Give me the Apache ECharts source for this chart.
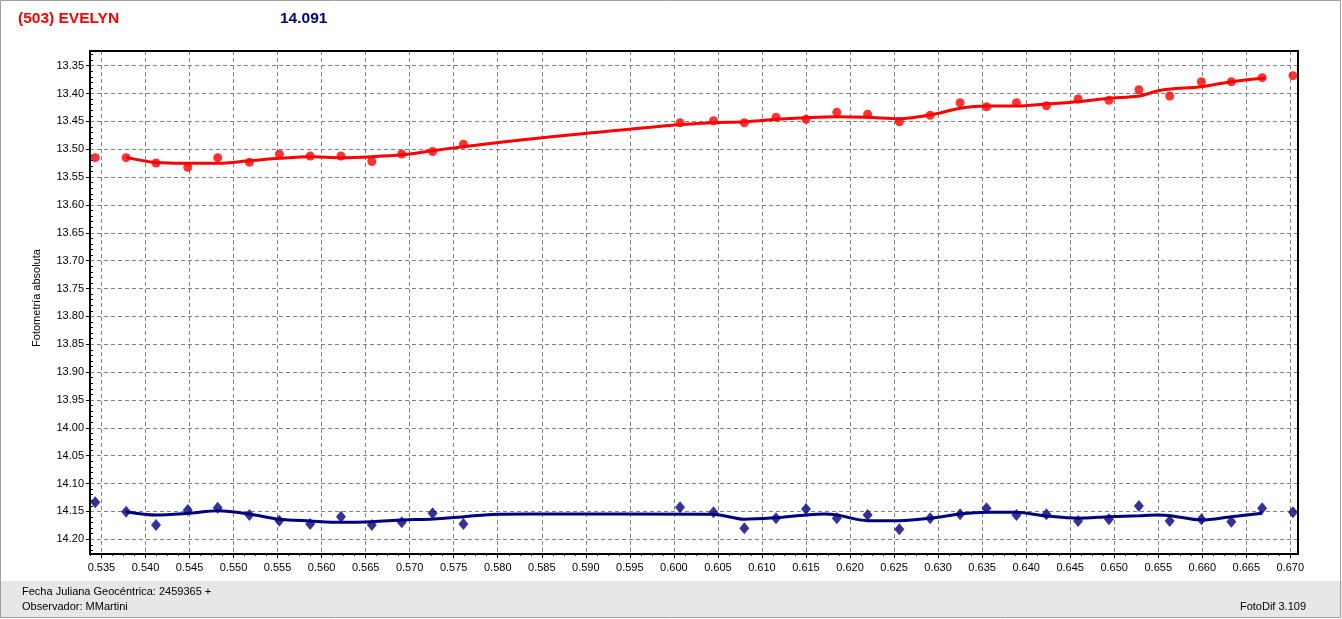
<!DOCTYPE html>
<html>
<head>
<meta charset="utf-8">
<script src="https://cdn.jsdelivr.net/npm/echarts@6/dist/echarts.min.js"></script>
<style>
html,body{margin:0;padding:0;background:#fff;}
#chart{width:1342px;height:619px;}
</style>
</head>
<body>
<div id="chart"></div>
<script>
// ---- data ----
const titleText = '(503) EVELYN';
const refMagText = '14.091';
const yAxisName = 'Fotometría absoluta';
const footerDate = 'Fecha Juliana Geocéntrica: 2459365 +';
const footerObserver = 'Observador: MMartini';
const footerSoftware = 'FotoDif 3.109';

// tick values
const xTicks = [0.535,0.540,0.545,0.550,0.555,0.560,0.565,0.570,0.575,0.580,0.585,0.590,0.595,0.600,
  0.605,0.610,0.615,0.620,0.625,0.630,0.635,0.640,0.645,0.650,0.655,0.660,0.665,0.670];
const yTicks = [13.35,13.40,13.45,13.50,13.55,13.60,13.65,13.70,13.75,13.80,13.85,13.90,13.95,14.00,
  14.05,14.10,14.15,14.20];

// observation times (fraction of day)
const obsTimes = [0.5343,0.5378,0.5412,0.5448,0.5482,0.5518,0.5552,0.5587,0.5622,0.5657,0.5691,0.5726,0.5761,
  0.6007,0.6045,0.6080,0.6116,0.6150,0.6185,0.6220,0.6256,0.6291,0.6325,0.6355,0.6389,0.6423,0.6459,0.6494,
  0.6528,0.6563,0.6599,0.6633,0.6668,0.6703];
// asteroid magnitudes (red)
const asteroidMag = [13.515,13.515,13.5246,13.5323,13.515,13.5234,13.509,13.512,13.512,13.522,13.5085,13.504,13.491,
  13.4523,13.4487,13.4523,13.4426,13.4462,13.4337,13.4372,13.4505,13.4390,13.4164,13.4236,13.4164,13.4218,13.4098,
  13.4121,13.3931,13.4044,13.3787,13.3787,13.3715,13.3679];
// comparison star magnitudes (blue)
const compMag = [14.1336,14.1504,14.1743,14.1474,14.1433,14.1564,14.1666,14.1725,14.1594,14.1743,14.1695,14.1533,14.1725,
  14.1427,14.1516,14.1803,14.1623,14.1456,14.1623,14.1564,14.1821,14.1623,14.1551,14.1444,14.1564,14.1551,14.1671,
  14.1641,14.1403,14.1671,14.1641,14.1684,14.1444,14.1516];

// smoothed curve of asteroid
const asteroidFitX = [0.5378,0.5412,0.5448,0.5482,0.5518,0.5552,0.5587,0.5622,0.5657,0.5691,0.5726,0.5761,0.5826,0.5902,
  0.6001,0.6045,0.6080,0.6116,0.6150,0.6185,0.6220,0.6256,0.6291,0.6325,0.6355,0.6389,0.6423,0.6459,0.6494,0.6528,
  0.6549,0.6564,0.6599,0.6633,0.6672];
const asteroidFitY = [13.5145,13.5238,13.5250,13.5250,13.5205,13.5162,13.5133,13.5150,13.5133,13.5100,13.5025,13.4953,
  13.4833,13.4713,13.4564,13.4523,13.4505,13.4462,13.4433,13.4415,13.4426,13.4450,13.4385,13.4265,13.4223,13.4223,
  13.4187,13.4146,13.4085,13.4044,13.3954,13.3918,13.3877,13.3787,13.3721];
// smoothed curve of comparison
const compFitX = [0.5378,0.5412,0.5448,0.5483,0.5518,0.5552,0.5587,0.5622,0.5658,0.5691,0.5727,0.5762,0.5799,0.5833,
  0.6045,0.6080,0.6116,0.6150,0.6171,0.6185,0.6220,0.6256,0.6291,0.6325,0.6355,0.6389,0.6423,0.6459,0.6494,0.6528,
  0.6549,0.6564,0.6599,0.6633,0.6668];
const compFitY = [14.1504,14.1564,14.1533,14.1486,14.1546,14.1641,14.1671,14.1695,14.1684,14.1654,14.1636,14.1594,
  14.1551,14.1546,14.1551,14.1641,14.1612,14.1564,14.1546,14.1564,14.1666,14.1666,14.1623,14.1546,14.1516,14.1516,
  14.1582,14.1623,14.1594,14.1576,14.1564,14.1576,14.1654,14.1594,14.1533];

// axis extents
const xMin = 0.5337, xMax = 0.67087;
const yMin = 13.3236, yMax = 14.2264;

// minor ticks (subdivisions of the major ticks)
const xMinor = [], yMinor = [];
for (let i = -1; i < xTicks.length; i++) {
  const base = i < 0 ? xTicks[0] - 0.005 : xTicks[i];
  for (let k = 1; k < 4; k++) { const v = +(base + k * 0.00125).toFixed(5); if (v > xMin && v < xMax) xMinor.push(v); }
}
for (let i = -1; i < yTicks.length; i++) {
  const base = i < 0 ? yTicks[0] - 0.05 : yTicks[i];
  for (let k = 1; k < 5; k++) { const v = +(base + k * 0.01).toFixed(4); if (v > yMin && v < yMax) yMinor.push(v); }
}

const zip = (a, b) => a.map((v, i) => [v, b[i]]);

const G = {left: 90, top: 51, right: 44, bottom: 65};
const W = 1342, H = 619;
const font = 'Liberation Sans, Arial, sans-serif';
const gridStyle = {color: '#808080', type: [4, 3], width: 1};

const chart = echarts.init(document.getElementById('chart'), null, {renderer: 'canvas'});
chart.setOption({
  backgroundColor: '#ffffff',
  animation: false,
  grid: {left: G.left, top: G.top, right: G.right, bottom: G.bottom, show: false},
  xAxis: [{
    type: 'value', min: xMin, max: xMax,
    axisLine: {show: true, onZero: false, lineStyle: {color: '#000', width: 2}},
    axisTick: {show: true, length: 4, customValues: xTicks, lineStyle: {color: '#000'}},
    axisLabel: {color: '#000', fontFamily: font, fontSize: 11, margin: 8,
      customValues: xTicks, formatter: v => v.toFixed(3)},
    splitLine: {show: true, lineStyle: gridStyle}
  }, {
    type: 'value', min: xMin, max: xMax, position: 'bottom',
    axisLine: {show: false, onZero: false},
    axisTick: {show: true, length: 2, customValues: xMinor, lineStyle: {color: '#000'}},
    axisLabel: {show: false},
    splitLine: {show: false}
  }],
  yAxis: [{
    type: 'value', inverse: true, min: yMin, max: yMax,
    axisLine: {show: true, onZero: false, lineStyle: {color: '#000', width: 2}},
    axisTick: {show: true, length: 4, customValues: yTicks, lineStyle: {color: '#000'}},
    axisLabel: {color: '#000', fontFamily: font, fontSize: 11, margin: 6,
      customValues: yTicks, formatter: v => v.toFixed(2)},
    splitLine: {show: true, lineStyle: gridStyle}
  }, {
    type: 'value', inverse: true, min: yMin, max: yMax, position: 'left',
    axisLine: {show: false, onZero: false},
    axisTick: {show: true, inside: true, length: 3, customValues: yMinor, lineStyle: {color: '#000'}},
    axisLabel: {show: false},
    splitLine: {show: false}
  }],
  series: [
    {type: 'line', data: zip(asteroidFitX, asteroidFitY), smooth: 0.3, showSymbol: false,
      lineStyle: {color: '#ff0000', width: 3}, z: 3},
    {type: 'line', data: zip(compFitX, compFitY), smooth: 0.3, showSymbol: false,
      lineStyle: {color: '#000080', width: 3}, z: 3},
    {type: 'scatter', data: zip(obsTimes, asteroidMag), symbol: 'circle', symbolSize: 9,
      itemStyle: {color: '#ff0000'}, z: 4},
    {type: 'scatter', data: zip(obsTimes, compMag), symbol: 'diamond', symbolSize: [10, 12],
      itemStyle: {color: '#000080'}, z: 4}
  ],
  graphic: [
    {type: 'rect', z: -10, silent: true, shape: {x: 0, y: 581, width: W, height: 36},
      style: {fill: '#e8e7e5'}},
    {type: 'rect', z: 100, silent: true, shape: {x: 0.5, y: 0.5, width: W - 2, height: H - 2},
      style: {fill: 'none', stroke: '#a0a0a0', lineWidth: 1}},
    {type: 'rect', z: 100, silent: true,
      shape: {x: G.left, y: G.top, width: W - G.left - G.right, height: H - G.top - G.bottom},
      style: {fill: 'none', stroke: '#000', lineWidth: 2}},
    {type: 'text', z: 100, x: 18, y: 19, style: {text: titleText, fill: '#ff0000',
      font: 'bold 15.5px ' + font, verticalAlign: 'middle'}},
    {type: 'text', z: 100, x: 280, y: 19, style: {text: refMagText, fill: '#000080',
      font: 'bold 15.5px ' + font, verticalAlign: 'middle'}},
    {type: 'text', z: 100, x: 37, y: 298, rotation: Math.PI / 2,
      style: {text: yAxisName, fill: '#000', font: '11px ' + font, align: 'center', verticalAlign: 'middle'}},
    {type: 'text', z: 100, x: 22, y: 592, style: {text: footerDate, fill: '#000',
      font: '11px ' + font, verticalAlign: 'middle'}},
    {type: 'text', z: 100, x: 22, y: 607, style: {text: footerObserver, fill: '#000',
      font: '11px ' + font, verticalAlign: 'middle'}},
    {type: 'text', z: 100, x: 1306, y: 607, style: {text: footerSoftware, fill: '#000',
      font: '11px ' + font, align: 'right', verticalAlign: 'middle'}}
  ]
});
</script>
</body>
</html>
